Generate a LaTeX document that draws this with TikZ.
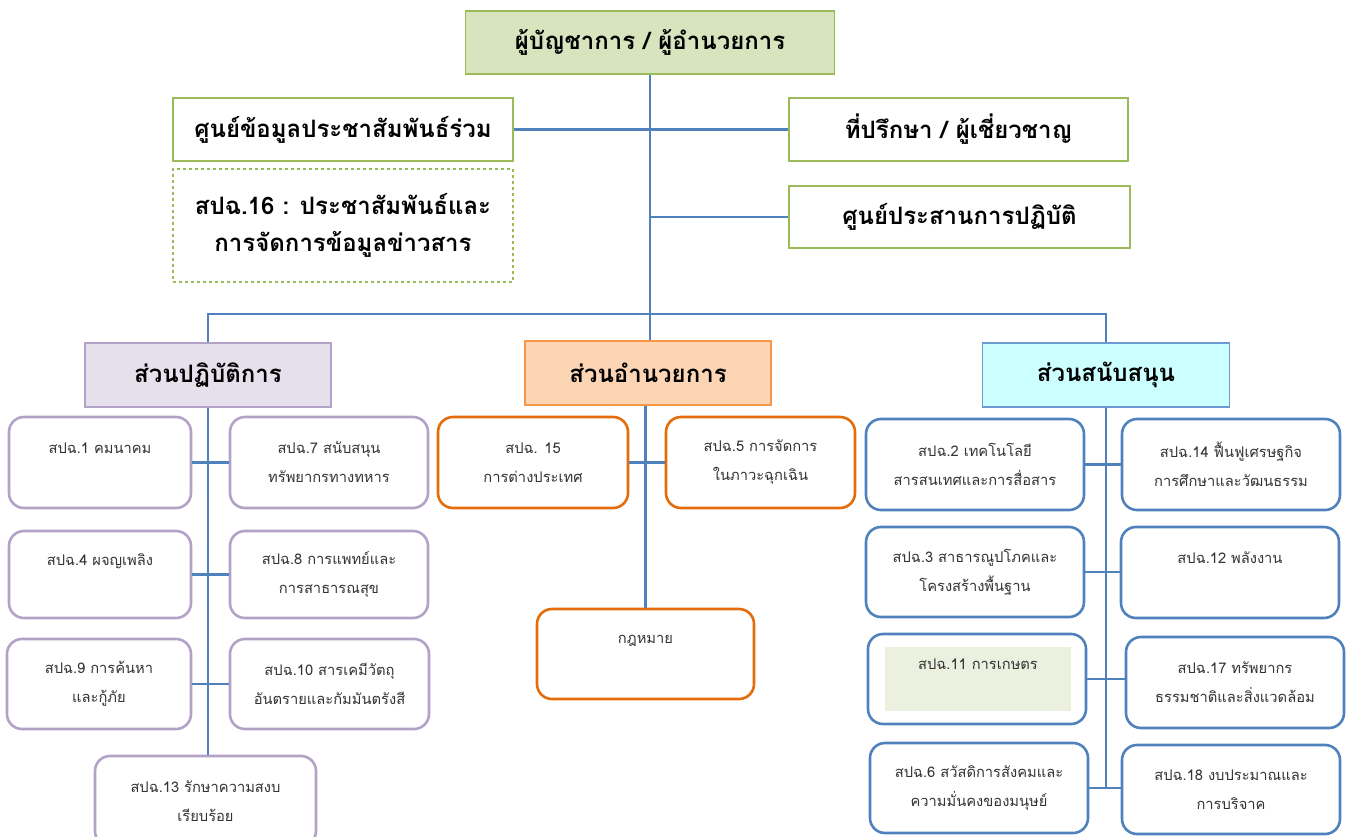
\documentclass[tikz,border=0pt]{standalone}
\usepackage{fontspec}
\setmainfont{Loma}[Script=Thai]
\definecolor{olivebd}{HTML}{9BBB59}
\definecolor{olivefill}{HTML}{D7E4BD}
\definecolor{palegreen}{HTML}{EBF1DE}
\definecolor{lilacbd}{HTML}{B3A2C7}
\definecolor{lilacfill}{HTML}{E5E0EC}
\definecolor{peachbd}{HTML}{F79646}
\definecolor{peachfill}{HTML}{FCD5B5}
\definecolor{orangebd}{HTML}{E46C0A}
\definecolor{cyanfill}{HTML}{CCFFFF}
\definecolor{skybd}{HTML}{6C9BD2}
\definecolor{bluebd}{HTML}{4F81BD}
\definecolor{linkblue}{HTML}{4F81BD}
\tikzset{
  conn/.style={draw=linkblue, line width=2.2pt},
  headbox/.style={draw=olivebd, line width=1.4pt, inner sep=0pt, align=center,
    font=\bfseries\fontsize{24}{37}\selectfont},
  secbox/.style={line width=1.4pt, inner sep=0pt, minimum width=246pt, minimum height=64pt,
    font=\bfseries\fontsize{24}{28}\selectfont},
  unitbox/.style={draw=#1, line width=2.6pt, rounded corners=15pt, fill=white, inner sep=0pt,
    align=center, text=black!80, font=\fontsize{14.7}{29}\selectfont},
}
\begin{document}
\begin{tikzpicture}[x=1pt,y=-1pt]
\useasboundingbox (0,0) rectangle (1349,837);
\clip (0,0) rectangle (1349,837);

\node[headbox, fill=olivefill, minimum width=369pt, minimum height=63pt] (top) at (650,42.5) {ผู้บัญชาการ / ผู้อำนวยการ};
\node[headbox, minimum width=340pt, minimum height=63pt] (info) at (343,129.5) {ศูนย์ข้อมูลประชาสัมพันธ์ร่วม};
\node[headbox, dashed, minimum width=340pt, minimum height=113pt] (pr16) at (343,225.5) {สปฉ.16 : ประชาสัมพันธ์และ\\การจัดการข้อมูลข่าวสาร};
\node[headbox, minimum width=339pt, minimum height=63pt] (advisor) at (958.5,129.5) {ที่ปรึกษา / ผู้เชี่ยวชาญ};
\node[headbox, minimum width=341pt, minimum height=62pt] (coord) at (959.5,217) {ศูนย์ประสานการปฏิบัติ};

\node[secbox, draw=lilacbd, fill=lilacfill] (ops) at (208,375) {ส่วนปฏิบัติการ};
\node[secbox, draw=peachbd, fill=peachfill] (adm) at (648,373) {ส่วนอำนวยการ};
\node[secbox, draw=skybd, fill=cyanfill, minimum width=247pt] (sup) at (1106,375) {ส่วนสนับสนุน};

\coordinate (bus) at (650,314);
\draw[conn] (top.south) -- (top.south |- adm.north);
\draw[conn] (info.east) -- (advisor.west);
\draw[conn] (coord.west) -- (coord.west -| top.south);
\draw[conn] (ops.north) |- (bus) -| (sup.north);

% ส่วนปฏิบัติการ
\node[unitbox=lilacbd, minimum width=182pt, minimum height=91pt] (s1) at (100,462.5) {สปฉ.1 คมนาคม\\\mbox{}};
\node[unitbox=lilacbd, minimum width=198pt, minimum height=91pt] (s7) at (329,462.5) {สปฉ.7 สนับสนุน\\ทรัพยากรทางทหาร};
\node[unitbox=lilacbd, minimum width=182pt, minimum height=87pt] (s4) at (100,574.5) {สปฉ.4 ผจญเพลิง\\\mbox{}};
\node[unitbox=lilacbd, minimum width=198pt, minimum height=87pt] (s8) at (329,574.5) {สปฉ.8 การแพทย์และ\\การสาธารณสุข};
\node[unitbox=lilacbd, minimum width=184pt, minimum height=90pt] (s9) at (99,684) {สปฉ.9 การค้นหา\\และกู้ภัย};
\node[unitbox=lilacbd, minimum width=199pt, minimum height=90pt] (s10) at (329.5,684) {สปฉ.10 สารเคมีวัตถุ\\อันตรายและกัมมันตรังสี};
\node[unitbox=lilacbd, minimum width=221pt, minimum height=90pt] (s13) at (205.5,801) {สปฉ.13 รักษาความสงบ\\เรียบร้อย};
\draw[conn] (ops.south) -- (ops.south |- s13.north);
\draw[conn] (s1.east) -- (s7.west);
\draw[conn] (s4.east) -- (s8.west);
\draw[conn] (s9.east) -- (s10.west);

% ส่วนอำนวยการ
\node[unitbox=orangebd, minimum width=190pt, minimum height=91pt] (s15) at (533,462.5) {สปฉ. 15\\การต่างประเทศ};
\node[unitbox=orangebd, minimum width=189pt, minimum height=91pt] (s5) at (760.5,462.5) {สปฉ.5 การจัดการ\\ในภาวะฉุกเฉิน};
\node[unitbox=orangebd, minimum width=217pt, minimum height=90pt] (law) at (645.5,654) {กฎหมาย\\\mbox{}};
\draw[conn] (adm.south -| law.north) -- (law.north);
\draw[conn] (s15.east) -- (s5.west);

% ส่วนสนับสนุน
\node[unitbox=bluebd, minimum width=218pt, minimum height=91pt] (s2) at (975,464.5) {สปฉ.2 เทคโนโลยี\\สารสนเทศและการสื่อสาร};
\node[unitbox=bluebd, minimum width=218pt, minimum height=91pt] (s14) at (1231,464.5) {สปฉ.14 ฟื้นฟูเศรษฐกิจ\\การศึกษาและวัฒนธรรม};
\node[unitbox=bluebd, minimum width=218pt, minimum height=90pt] (s3) at (975,572) {สปฉ.3 สาธารณูปโภคและ\\โครงสร้างพื้นฐาน};
\node[unitbox=bluebd, minimum width=218pt, minimum height=91pt] (s12) at (1230,572.5) {สปฉ.12 พลังงาน\\\mbox{}};
\node[unitbox=bluebd, minimum width=218pt, minimum height=90pt] (s11) at (977,679) {};
\node[fill=palegreen, inner sep=0pt, minimum width=186pt, minimum height=64pt, align=center,
  text=black!80, font=\fontsize{14.7}{29}\selectfont] (s11in) at (978,679) {สปฉ.11 การเกษตร\\\mbox{}};
\node[unitbox=bluebd, minimum width=218pt, minimum height=91pt] (s17) at (1235,682.5) {สปฉ.17 ทรัพยากร\\ธรรมชาติและสิ่งแวดล้อม};
\node[unitbox=bluebd, minimum width=218pt, minimum height=90pt] (s6) at (979,788) {สปฉ.6 สวัสดิการสังคมและ\\ความมั่นคงของมนุษย์};
\node[unitbox=bluebd, minimum width=218pt, minimum height=89pt] (s18) at (1231,789.5) {สปฉ.18 งบประมาณและ\\การบริจาค};
\draw[conn] (sup.south) -- (sup.south |- s6.east);
\draw[conn] (s2.east) -- (s2.east -| s14.west);
\draw[conn] (s3.east) -- (s3.east -| s12.west);
\draw[conn] (s11.east) -- (s11.east -| s17.west);
\draw[conn] (s6.east) -- (s6.east -| s18.west);
\end{tikzpicture}
\end{document}
